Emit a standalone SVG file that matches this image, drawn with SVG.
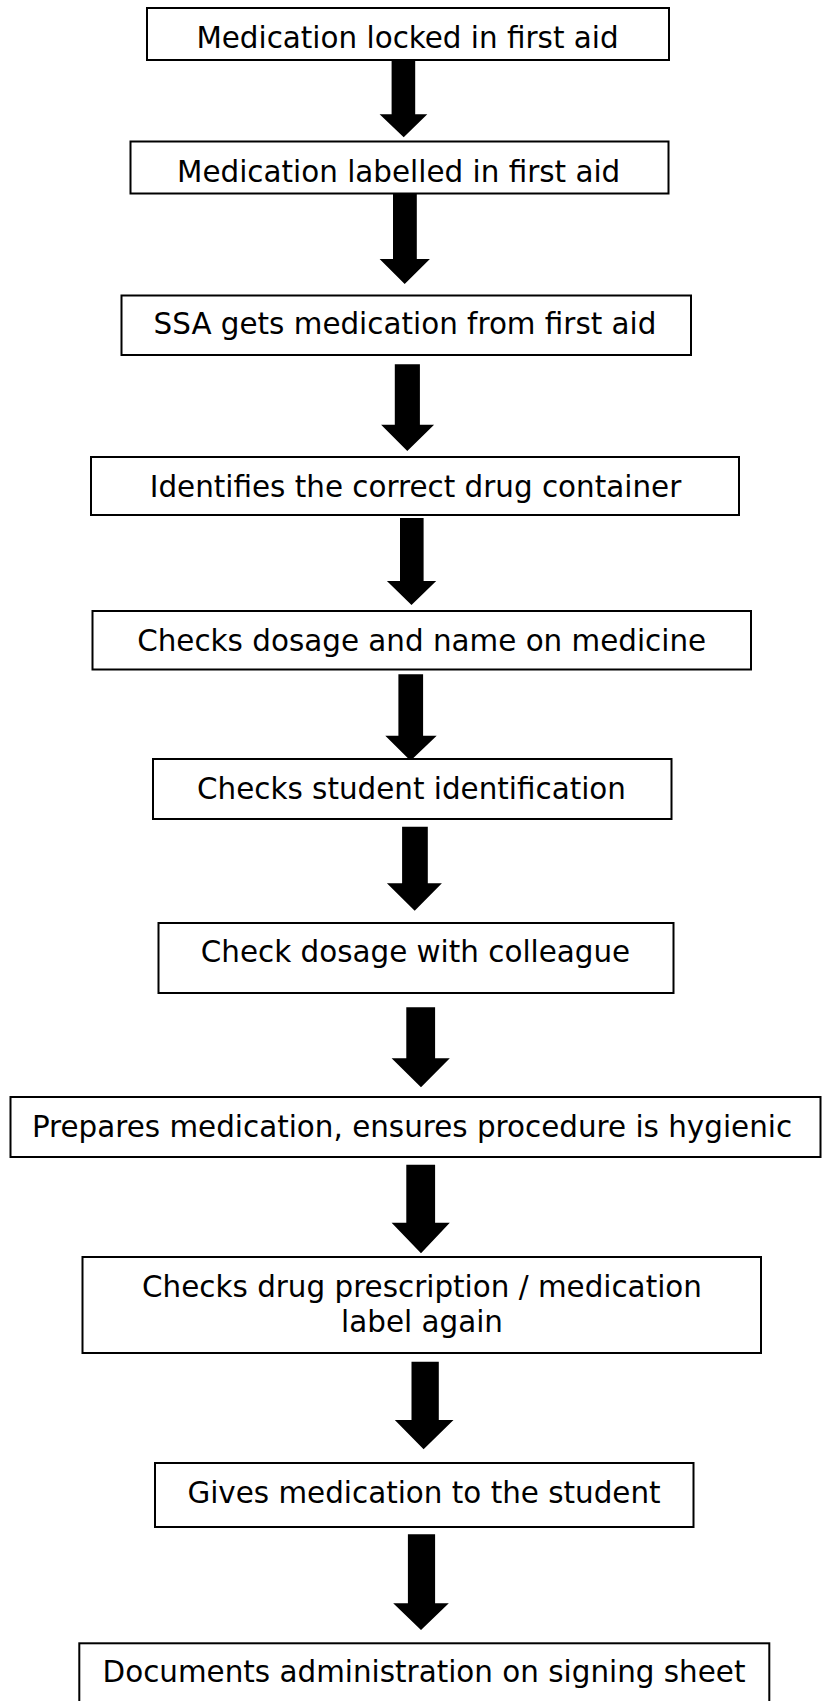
<svg xmlns="http://www.w3.org/2000/svg" width="822" height="1701" viewBox="0 0 822 1701">
<style>
.box{fill:#fff;stroke:#000;stroke-width:2}
.t{font-family:"DejaVu Sans","Verdana",sans-serif;font-size:29.4px;fill:#000;text-anchor:middle}
.arr{fill:#000}
</style>
<rect width="822" height="1701" fill="#fff"/>
<g id="connectors">
<path class="arr" d="M391.6,58 H415.2 V114.3 H427.3 L403.7,137.3 L379.6,114.3 H391.6 Z"/>
<path class="arr" d="M393,192.7 H416.8 V259 H429.9 L404.7,284 L379.6,259 H393 Z"/>
<path class="arr" d="M394.8,364.3 H419.9 V424.7 H434.1 L407.3,451 L381.1,424.7 H394.8 Z"/>
<path class="arr" d="M400,518 H423.6 V581 H436.2 L411.5,605 L386.9,581 H400 Z"/>
<path class="arr" d="M398.4,674.3 H423.1 V735.7 H436.7 L410.5,760.7 L385.3,735.7 H398.4 Z"/>
<path class="arr" d="M402.1,826.7 H427.8 V883.3 H441.9 L414.7,910.7 L386.9,883.3 H402.1 Z"/>
<path class="arr" d="M406.3,1007.3 H435.1 V1058.3 H449.8 L421,1087.3 L391.6,1058.3 H406.3 Z"/>
<path class="arr" d="M406.3,1164.7 H435.1 V1222.7 H449.8 L421,1253.3 L391.6,1222.7 H406.3 Z"/>
<path class="arr" d="M411.5,1361.7 H438.8 V1420 H453.5 L423.6,1449.3 L394.8,1420 H411.5 Z"/>
<path class="arr" d="M407.9,1534.3 H435.1 V1603.3 H448.8 L421,1630 L393.2,1603.3 H407.9 Z"/>
</g>
<g id="n1"><rect class="box" x="147" y="8" width="522" height="52"/><text class="t" x="407.5" y="48.3">Medication locked in first aid</text></g>
<g id="n2"><rect class="box" x="130.5" y="141.5" width="538" height="52"/><text class="t" x="398.7" y="181.7">Medication labelled in first aid</text></g>
<g id="n3"><rect class="box" x="121.5" y="295.5" width="569.5" height="59.5"/><text class="t" x="405" y="334.3">SSA gets medication from first aid</text></g>
<g id="n4"><rect class="box" x="91" y="457" width="648" height="58"/><text class="t" x="415.5" y="496.7">Identifies the correct drug container</text></g>
<g id="n5"><rect class="box" x="92.5" y="611" width="658.5" height="58.5"/><text class="t" x="421.7" y="651">Checks dosage and name on medicine</text></g>
<g id="n6"><rect class="box" x="153" y="759" width="518.5" height="60"/><text class="t" x="411.5" y="799.3">Checks student identification</text></g>
<g id="n7"><rect class="box" x="158.5" y="923" width="515" height="70"/><text class="t" x="415.5" y="962.3">Check dosage with colleague</text></g>
<g id="n8"><rect class="box" x="10.5" y="1097" width="810" height="60"/><text class="t" x="412" y="1136.7">Prepares medication, ensures procedure is hygienic</text></g>
<g id="n9"><rect class="box" x="82.5" y="1257" width="678.5" height="96"/><text class="t" x="422" y="1296.7">Checks drug prescription / medication</text><text class="t" x="422" y="1331.7">label again</text></g>
<g id="n10"><rect class="box" x="155" y="1463" width="538.5" height="64"/><text class="t" x="424" y="1502.7">Gives medication to the student</text></g>
<g id="n11"><rect class="box" x="79.3" y="1643.3" width="690" height="80"/><text class="t" x="424" y="1681.7">Documents administration on signing sheet</text></g>
</svg>
